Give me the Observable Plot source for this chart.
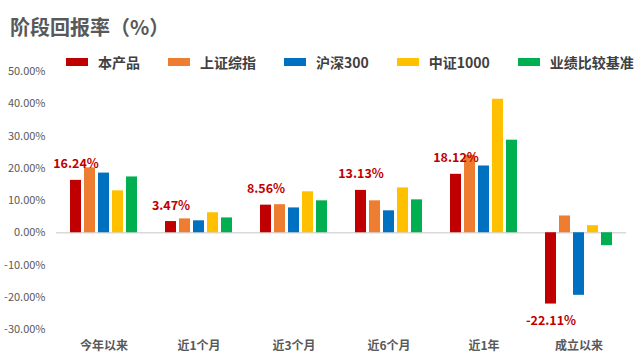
<!DOCTYPE html>
<html><head><meta charset="utf-8">
<script src="https://cdn.jsdelivr.net/npm/d3@7"></script>
<script src="https://cdn.jsdelivr.net/npm/@observablehq/plot@0.6"></script>
<style>
body{margin:0;background:#fff;font-family:"Noto Sans CJK SC","Noto Sans",sans-serif;}
#wrap{width:641px;height:361px;position:relative;overflow:hidden}
#head{height:70px;position:relative}
#title{position:absolute;left:10px;top:13px;font-size:20px;font-weight:bold;color:#595959;line-height:28px;white-space:nowrap}
#legend{position:absolute;left:66px;top:52px;display:flex;align-items:center;height:20px;white-space:nowrap}
.item{display:flex;align-items:center;margin-right:28px;font-size:14px;font-weight:bold;color:#404040}
.sw{width:22px;height:8px;margin-right:10px}
</style></head>
<body><div id="wrap"><div id="head"><div id="title">阶段回报率（%）</div><div id="legend"></div></div><div id="chart"></div></div>
<script>
const periods = ["今年以来","近1个月","近3个月","近6个月","近1年","成立以来"];
const series = ["本产品","上证综指","沪深300","中证1000","业绩比较基准"];
const colors = ["#c00000","#ed7d31","#0070c0","#ffc000","#00b050"];
const product = [16.24, 3.47, 8.56, 13.13, 18.12, -22.11];
const shanghai = [20.1, 4.3, 8.7, 9.9, 24.0, 5.2];
const csi300 = [18.5, 3.7, 7.7, 6.8, 20.7, -19.4];
const csi1000 = [13.0, 6.2, 12.7, 13.9, 41.4, 2.2];
const benchmark = [17.3, 4.6, 9.9, 10.2, 28.7, -4.0];
const yTicks = [-30, -20, -10, 0, 10, 20, 30, 40, 50];

const seriesValues = [product, shanghai, csi300, csi1000, benchmark];
const rows = periods.flatMap((p, i) => series.map((s, j) => ({period: p, series: s, value: seriesValues[j][i]})));
const labelRows = rows.filter(d => d.series === series[0]);

const legend = document.getElementById("legend");
series.forEach((s, j) => {
  const it = document.createElement("div");
  it.className = "item";
  it.innerHTML = `<span class="sw" style="background:${colors[j]}"></span><span>${s}</span>`;
  legend.appendChild(it);
});

const fmt = v => v.toFixed(2) + "%";
const chart = Plot.plot({
  width: 641, height: 291,
  marginTop: 1, marginBottom: 32, marginLeft: 55, marginRight: 13.5,
  style: {overflow: "visible", fontFamily: '"Noto Sans CJK SC","Noto Sans",sans-serif', background: "transparent"},
  fx: {domain: periods, padding: 0, label: null},
  x: {domain: series, paddingInner: 0.2, paddingOuter: 0.88, axis: null},
  y: {domain: [-30, 50], label: null},
  color: {domain: series, range: colors},
  marks: [
    Plot.axisY(yTicks, {tickFormat: fmt, tickSize: 0, tickPadding: 11, fontSize: 11, fill: "#595959", label: null}),
    Plot.axisFx({anchor: "bottom", tickSize: 0, tickPadding: 12, fontSize: 12, fontWeight: "bold", fill: "#595959", label: null}),
    Plot.ruleY([0], {stroke: "#d9d9d9", strokeWidth: 1.5}),
    Plot.barY(rows, {fx: "period", x: "series", y: "value", fill: "series"}),
    Plot.text(labelRows.filter(d => d.value >= 0), {fx: "period", x: "series", y: "value", text: d => fmt(d.value), dy: -16, fill: "#c00000", fontWeight: "bold", fontSize: 12.5}),
    Plot.text(labelRows.filter(d => d.value < 0), {fx: "period", x: "series", y: "value", text: d => fmt(d.value), dy: 17, fill: "#c00000", fontWeight: "bold", fontSize: 12.5})
  ]
});
document.getElementById("chart").appendChild(chart);
</script>
</body></html>
